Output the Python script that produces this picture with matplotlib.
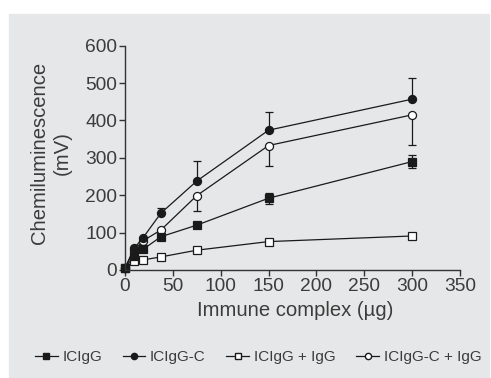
import matplotlib.pyplot as plt
from matplotlib.patches import Rectangle
from matplotlib.lines import Line2D

plt.rcParams['font.family'] = ['Liberation Sans', 'DejaVu Sans']

# immune complex amounts (ug)
dose = [0, 9.375, 18.75, 37.5, 75, 150, 300]

# chemiluminescence (mV)
iciGG = [5, 37, 55, 89, 120, 192, 290]
iciGG_err = [0, 0, 0, 0, 0, 15, 17]
iciGG_c = [5, 58, 86, 152, 238, 374, 457]
iciGG_c_err_up = [0, 0, 0, 14, 54, 48, 56]
iciGG_igg = [5, 24, 27, 35, 53, 76, 91]
iciGG_c_igg = [5, 53, 78, 107, 199, 333, 415]
iciGG_c_igg_err_dn = [0, 0, 0, 0, 42, 55, 81]

text_col = '#3c3c3c'
ink = '#1a1a1a'
bg = '#e6e7e8'

fig = plt.figure(figsize=(4.91, 3.78), dpi=100)
fig.patches.append(Rectangle((9 / 491, 0), 480 / 491, 364 / 378,
                             transform=fig.transFigure, color=bg, zorder=-5))
ax = fig.add_axes([125 / 491, 1 - 270 / 378, 335 / 491, 224.3 / 378])
ax.set_facecolor('none')

kw = dict(color=ink, lw=0.9, ms=5.8, mew=0.9, capsize=2.7,
          elinewidth=0.9, capthick=0.9, clip_on=False)
ax.errorbar(dose, iciGG_igg, marker='s', mfc='white', **kw)
ax.errorbar(dose, iciGG_c_igg, yerr=[iciGG_c_igg_err_dn, [0] * 7], marker='o',
            mfc='white', **kw)
ax.errorbar(dose, iciGG_c, yerr=[[0] * 7, iciGG_c_err_up], marker='o',
            mfc=ink, **kw)
ax.errorbar(dose, iciGG, yerr=iciGG_err, marker='s', mfc=ink, **kw)

ax.set_xlim(0, 350)
ax.set_ylim(0, 600)
ax.set_xticks(range(0, 351, 50))
ax.set_yticks(range(0, 601, 100))
for s in ['top', 'right']:
    ax.spines[s].set_visible(False)
for s in ['left', 'bottom']:
    ax.spines[s].set_color('#333333')
    ax.spines[s].set_linewidth(1.0)
ax.tick_params(direction='out', length=4, width=1.0, colors='#333333',
               labelcolor=text_col, labelsize=13.8, pad=1.5)

fig.text(295 / 491, 1 - 311 / 378, 'Immune complex (µg)', ha='center',
         va='center', fontsize=14.6, color=text_col)
fig.text(51 / 491, 1 - 153 / 378, 'Chemiluminescence\n(mV)', ha='center',
         va='center', rotation=90, fontsize=14.6, color=text_col,
         linespacing=1.2)

handles = [
    Line2D([], [], color=ink, lw=0.9, marker='s', ms=4.5, mfc=ink),
    Line2D([], [], color=ink, lw=0.9, marker='o', ms=4.5, mfc=ink),
    Line2D([], [], color=ink, lw=0.9, marker='s', ms=4.5, mfc='white'),
    Line2D([], [], color=ink, lw=0.9, marker='o', ms=4.5, mfc='white'),
]
labels = ['ICIgG', 'ICIgG-C', 'ICIgG + IgG', 'ICIgG-C + IgG']
fig.legend(handles, labels, loc='center',
           bbox_to_anchor=(258 / 491, 1 - 357 / 378), ncol=4, frameon=False,
           fontsize=11, handlelength=1.5, handletextpad=0.3,
           columnspacing=1.35, labelcolor=text_col)

fig.savefig('out.png', dpi=100)
